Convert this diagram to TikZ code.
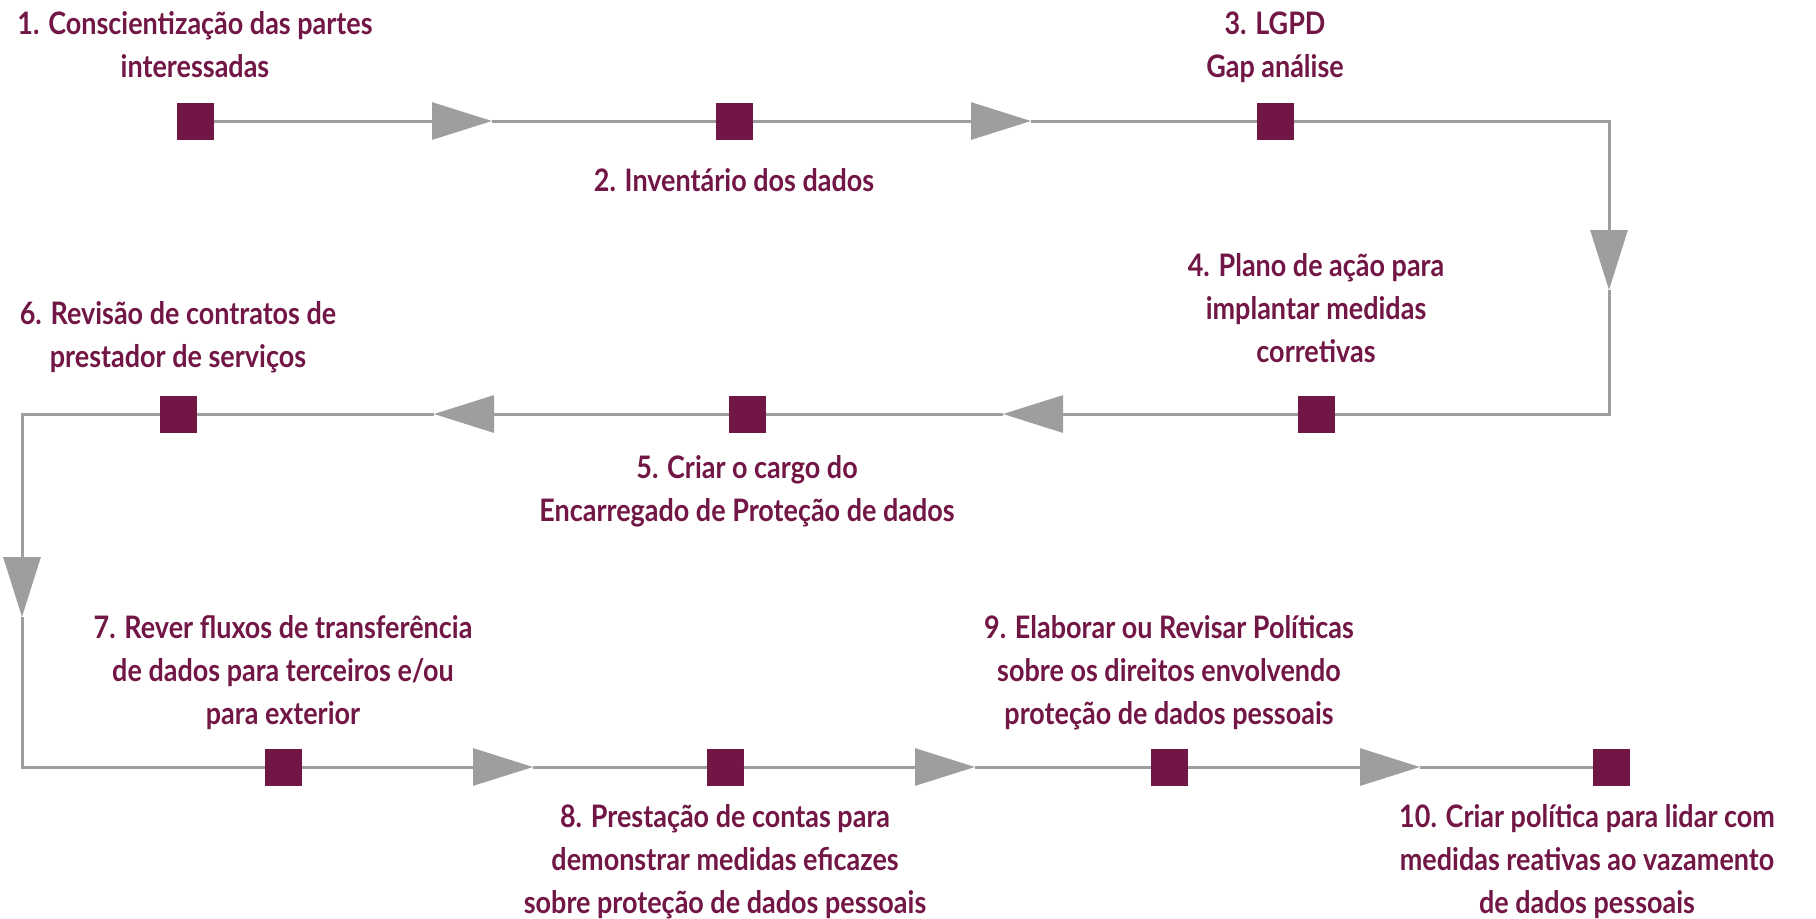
\documentclass[tikz,border=0pt]{standalone}
\usepackage{fontspec}
\setmainfont{Lato}[FakeStretch=0.87]
\usetikzlibrary{arrows.meta,positioning}
\definecolor{plum}{RGB}{114,22,70}
\definecolor{track}{RGB}{158,158,160}

\begin{document}
\begin{tikzpicture}[x=0.5pt,y=-0.5pt,
    stop/.style={fill=plum,minimum size=18.5pt,inner sep=0pt,outer sep=0pt},
    flow/.style={draw=track,line width=1.5pt},
    arrowhead/.style={-{Triangle[length=30pt,width=18.5pt]}},
    steptext/.style={text=plum,align=center,inner sep=0pt,
      font=\fontsize{15.5pt}{21.5pt}\selectfont\bfseries,
      execute at begin node=\strut,execute at end node=\strut}]
  \useasboundingbox (0,0) rectangle (1816,918);
  % squares
  \node[stop] (s1) at (195,121) {};
  \node[stop] (s2) at (734,121) {};
  \node[stop] (s3) at (1275,121) {};
  \node[stop] (s4) at (1316,414) {};
  \node[stop] (s5) at (747,414) {};
  \node[stop] (s6) at (178,414) {};
  \node[stop] (s7) at (283,767) {};
  \node[stop] (s8) at (725,767) {};
  \node[stop] (s9) at (1169,767) {};
  \node[stop] (s10) at (1611,767) {};
  % arrow tips and corners
  \coordinate (a1) at (492,121);
  \coordinate (a2) at (1031,121);
  \coordinate (c1) at (1609,121);
  \coordinate (d1) at (1609,290);
  \coordinate (c2) at (1609,414);
  \coordinate (a3) at (1003,414);
  \coordinate (a4) at (434,414);
  \coordinate (c3) at (22,414);
  \coordinate (d2) at (22,617);
  \coordinate (c4) at (22,767);
  \coordinate (a5) at (533,767);
  \coordinate (a6) at (975,767);
  \coordinate (a7) at (1420,767);
  % track
  \draw[flow,arrowhead] (s1) -- (a1);
  \draw[flow] (a1) -- (s2);
  \draw[flow,arrowhead] (s2) -- (a2);
  \draw[flow] (a2) -- (s3);
  \draw[flow,arrowhead] (s3) -- (c1) -- (d1);
  \draw[flow] (d1) -- (c2) -- (s4);
  \draw[flow,arrowhead] (s4) -- (a3);
  \draw[flow] (a3) -- (s5);
  \draw[flow,arrowhead] (s5) -- (a4);
  \draw[flow] (a4) -- (s6);
  \draw[flow,arrowhead] (s6) -- (c3) -- (d2);
  \draw[flow] (d2) -- (c4) -- (s7);
  \draw[flow,arrowhead] (s7) -- (a5);
  \draw[flow] (a5) -- (s8);
  \draw[flow,arrowhead] (s8) -- (a6);
  \draw[flow] (a6) -- (s9);
  \draw[flow,arrowhead] (s9) -- (a7);
  \draw[flow] (a7) -- (s10);
  % labels
  \node[steptext,above=6pt of s1] (t1) {1. Conscientização das partes\\interessadas};
  \node[steptext,below=10.9pt of s2] (t2) {2. Inventário dos dados};
  \node[steptext,above=6pt of s3] (t3) {3. LGPD\\Gap análise};
  \node[steptext,above=9.8pt of s4] (t4) {4. Plano de ação para\\implantar medidas\\corretivas};
  \node[steptext,below=11.5pt of s5] (t5) {5. Criar o cargo do\\Encarregado de Proteção de dados};
  \node[steptext,above=7.5pt of s6] (t6) {6. Revisão de contratos de\\prestador de serviços};
  \node[steptext,above=5.5pt of s7] (t7) {7. Rever fluxos de transferência\\de dados para terceiros e/ou\\para exterior};
  \node[steptext,below=9.4pt of s8] (t8) {8. Prestação de contas para\\demonstrar medidas eficazes\\sobre proteção de dados pessoais};
  \node[steptext,above=5.5pt of s9] (t9) {9. Elaborar ou Revisar Políticas\\sobre os direitos envolvendo\\proteção de dados pessoais};
  \node[steptext,below=9.4pt of s10,xshift=-12pt] (t10) {10. Criar política para lidar com\\medidas reativas ao vazamento\\de dados pessoais};
\end{tikzpicture}
\end{document}
